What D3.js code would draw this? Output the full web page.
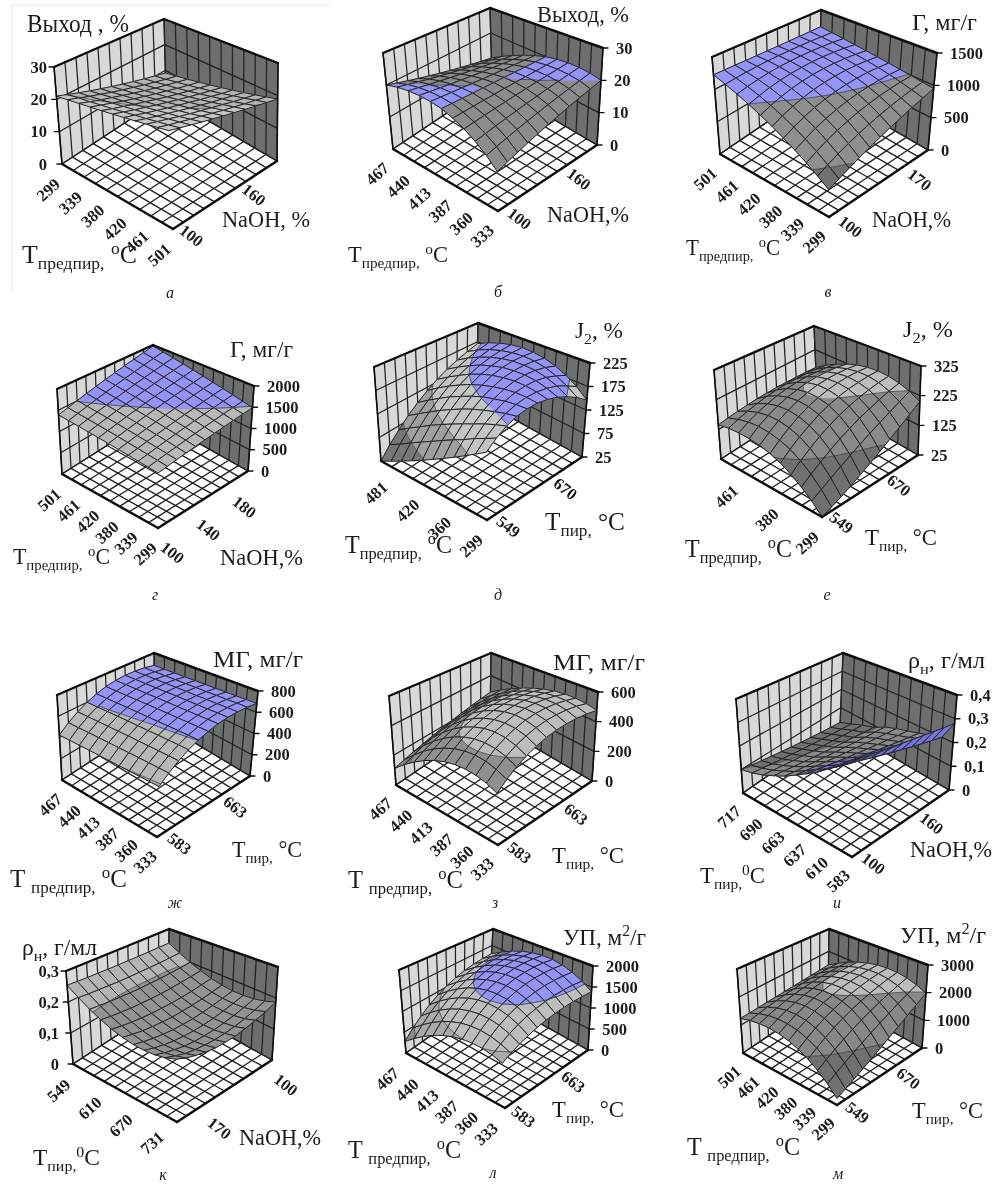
<!DOCTYPE html>
<html>
<head>
<meta charset="utf-8">
<script src="https://cdn.jsdelivr.net/npm/d3@7"></script>
<style>
  html, body { margin: 0; padding: 0; background: #fff; }
  text { font-family: "Liberation Serif", serif; fill: #1c1c1c; }
</style>
</head>
<body>
<svg id="chart" width="1002" height="1187">
  <defs><filter id="soft" x="0" y="0" width="100%" height="100%"><feGaussianBlur stdDeviation="0.35"/></filter></defs>
</svg>
<script>
// values: row = left axis step from the front corner, column = right axis step
const surfA = [
[25,24.4,23.8,23.2,22.6,22,21.4,20.8,20.2,19.6,19],
[24.6,23.9,23.3,22.6,22,21.3,20.6,20,19.3,18.7,18],
[24.2,23.5,22.8,22,21.3,20.6,19.9,19.2,18.4,17.7,17],
[23.8,23,22.2,21.5,20.7,19.9,19.1,18.3,17.6,16.8,16],
[23.4,22.6,21.7,20.9,20,19.2,18.4,17.5,16.7,15.8,15],
[23,22.1,21.2,20.3,19.4,18.5,17.6,16.7,15.8,14.9,14],
[22.6,21.6,20.7,19.7,18.8,17.8,16.8,15.9,14.9,14,13],
[22.2,21.2,20.2,19.1,18.1,17.1,16.1,15.1,14,13,12],
[21.8,20.7,19.6,18.6,17.5,16.4,15.3,14.2,13.2,12.1,11],
[21.4,20.3,19.1,18,16.8,15.7,14.6,13.4,12.3,11.1,10],
[21,19.8,18.6,17.4,16.2,15,13.8,12.6,11.4,10.2,9]];
const surfB = [
[10,11,12,13,14,15,16,17,18,19,20],
[12.8,13.6,14.4,15.2,16,16.8,17.6,18.4,19.2,20,20.8],
[15.1,15.7,16.3,16.9,17.5,18.1,18.7,19.3,19.9,20.5,21.1],
[17.1,17.5,17.9,18.3,18.7,19.1,19.5,19.9,20.3,20.7,21.1],
[18.7,18.9,19.1,19.3,19.5,19.7,19.9,20.1,20.3,20.5,20.7],
[20,20,20,20,20,20,20,20,20,20,20],
[20.7,20.5,20.3,20.1,19.9,19.7,19.5,19.3,19.1,18.9,18.7],
[21.1,20.7,20.3,19.9,19.5,19.1,18.7,18.3,17.9,17.5,17.1],
[21.1,20.5,19.9,19.3,18.7,18.1,17.5,16.9,16.3,15.7,15.1],
[20.8,20,19.2,18.4,17.6,16.8,16,15.2,14.4,13.6,12.8],
[20,19,18,17,16,15,14,13,12,11,10]];
const surfV = [
[350,410,470,530,590,650,710,770,830,890,950],
[452,521,586,647,705,759,809,855,898,937,972],
[551,625,693,754,809,856,897,932,959,981,995],
[647,723,791,850,900,941,974,998,1013,1019,1017],
[738,813,878,934,979,1014,1039,1054,1060,1055,1040],
[828,898,958,1007,1047,1075,1093,1101,1098,1086,1062],
[914,976,1028,1070,1102,1124,1136,1138,1130,1112,1084],
[997,1047,1089,1122,1146,1161,1168,1166,1155,1135,1107],
[1077,1112,1140,1163,1178,1186,1188,1183,1172,1154,1129],
[1152,1169,1182,1191,1197,1199,1197,1191,1182,1169,1152],
[1226,1221,1216,1210,1205,1200,1195,1190,1184,1179,1174]];
const surfG = [
[1120,1157,1194,1231,1268,1305,1342,1379,1416,1453,1490],
[1147,1186,1225,1264,1303,1343,1382,1421,1460,1499,1538],
[1174,1215,1256,1298,1339,1380,1421,1462,1504,1545,1586],
[1201,1244,1288,1331,1374,1418,1461,1504,1547,1591,1634],
[1228,1273,1319,1364,1410,1455,1500,1546,1591,1637,1682],
[1255,1303,1350,1398,1445,1493,1540,1588,1635,1683,1730],
[1282,1332,1381,1431,1480,1530,1580,1629,1679,1728,1778],
[1309,1361,1412,1464,1516,1568,1619,1671,1723,1774,1826],
[1336,1390,1444,1497,1551,1605,1659,1713,1766,1820,1874],
[1363,1419,1475,1531,1587,1643,1698,1754,1810,1866,1922],
[1390,1448,1506,1564,1622,1680,1738,1796,1854,1912,1970]];
const surfD = [
[145,161,174,183,188,190,188,183,174,162,146],
[133,152,168,180,188,193,194,192,187,177,165],
[121,143,161,175,186,194,198,199,196,189,180],
[109,132,152,169,182,192,199,202,202,198,191],
[97,122,143,162,177,188,197,202,204,203,199],
[85,111,133,153,169,182,193,200,204,205,203],
[73,99,122,142,159,174,186,194,200,203,204],
[61,87,110,130,148,163,176,186,193,198,201],
[49,74,96,116,134,150,163,174,183,190,194],
[37,60,82,101,119,135,148,160,170,178,184],
[25,47,66,85,102,117,131,143,153,162,170]];
const surfE = [
[25,36,48,62,78,95,114,134,156,180,205],
[54,70,86,103,120,137,154,171,188,206,224],
[78,99,118,137,155,171,187,200,214,226,237],
[99,123,144,164,182,197,211,222,232,240,245],
[117,142,164,183,201,215,227,236,242,247,248],
[130,155,177,196,212,225,235,242,246,247,245],
[140,163,184,201,216,227,236,240,242,241,237],
[145,167,185,200,212,221,228,231,231,229,223],
[147,165,179,191,201,208,212,214,213,210,204],
[146,157,167,175,182,186,189,189,188,185,180],
[140,145,149,152,155,156,157,156,155,153,150]];
const surfZh = [
[387,453,511,561,602,636,662,679,688,690,683],
[391,457,515,566,607,640,665,682,689,690,681],
[394,461,519,569,610,642,665,681,688,686,676],
[398,465,523,573,614,645,668,683,689,686,674],
[401,469,527,576,616,648,670,684,688,683,670],
[405,472,532,581,620,652,673,686,689,683,668],
[409,477,535,585,624,655,675,687,689,681,664],
[412,480,539,589,628,657,677,687,689,680,661],
[416,485,543,593,631,660,680,689,689,678,658],
[419,488,547,595,634,663,682,690,688,676,654],
[423,493,551,600,638,667,684,692,688,675,651]];
const surfZ = [
[282,329,370,405,433,456,472,482,486,484,476],
[310,359,403,438,467,489,504,511,512,506,493],
[327,379,423,459,487,509,522,528,526,517,501],
[335,387,431,467,494,516,528,532,529,519,500],
[333,383,427,462,488,509,520,524,520,510,491],
[321,369,410,443,469,489,500,504,500,491,473],
[299,343,382,413,437,456,467,471,469,462,447],
[267,307,341,369,391,409,421,427,427,423,412],
[225,259,288,312,332,349,361,369,373,373,369],
[174,199,223,242,260,276,289,300,308,314,317],
[112,129,145,160,175,190,204,218,231,244,256]];
const surfI = [
[.33,.325,.32,.315,.31,.305,.30,.295,.29,.285,.28],
[.30,.29,.28,.27,.26,.25,.24,.23,.22,.21,.20],
[.27,.26,.25,.245,.235,.23,.22,.21,.20,.195,.185],
[.24,.233,.226,.219,.212,.205,.198,.191,.184,.177,.17],
[.215,.209,.203,.197,.191,.185,.179,.173,.167,.161,.155],
[.19,.185,.18,.175,.17,.165,.16,.155,.15,.145,.14],
[.165,.16,.156,.152,.147,.143,.138,.134,.129,.125,.12],
[.145,.14,.134,.129,.123,.118,.112,.107,.101,.096,.09],
[.125,.12,.114,.109,.103,.098,.092,.087,.081,.076,.07],
[.11,.104,.097,.091,.084,.078,.071,.065,.058,.052,.045],
[.10,.092,.084,.076,.068,.06,.052,.044,.036,.028,.02]];
const surfK = [
[.167,.156,.149,.144,.141,.142,.145,.152,.161,.172,.187],
[.158,.149,.141,.137,.135,.135,.138,.143,.151,.162,.175],
[.153,.144,.138,.133,.131,.132,.134,.139,.146,.155,.167],
[.152,.144,.138,.134,.132,.132,.134,.138,.145,.153,.163],
[.155,.148,.143,.139,.137,.137,.138,.142,.147,.154,.162],
[.162,.156,.151,.148,.146,.145,.147,.149,.153,.159,.166],
[.172,.167,.163,.160,.158,.158,.158,.160,.163,.168,.173],
[.187,.182,.179,.176,.175,.174,.174,.175,.178,.181,.185],
[.205,.202,.199,.197,.195,.194,.194,.194,.195,.197,.200],
[.228,.225,.223,.221,.219,.218,.218,.217,.217,.218,.219],
[.254,.252,.25,.249,.247,.246,.245,.244,.243,.243,.242]];
const surfL = [
[885,985,1073,1150,1217,1273,1318,1352,1375,1387,1389],
[958,1083,1193,1288,1369,1435,1486,1523,1545,1552,1544],
[1001,1148,1277,1388,1481,1556,1614,1652,1673,1676,1662],
[1014,1179,1324,1449,1552,1636,1698,1739,1761,1762,1742],
[998,1178,1336,1471,1583,1673,1740,1785,1807,1807,1784],
[952,1143,1310,1453,1573,1669,1740,1788,1812,1812,1789],
[877,1075,1249,1398,1523,1623,1699,1750,1776,1778,1757],
[772,973,1151,1304,1432,1536,1615,1669,1700,1705,1687],
[638,839,1018,1171,1301,1408,1489,1547,1582,1591,1579],
[473,671,846,999,1129,1237,1321,1383,1422,1439,1433],
[280,470,640,789,917,1025,1111,1177,1222,1246,1250]];
const surfM = [
[200,319,452,597,756,927,1112,1309,1520,1744,1980],
[493,645,801,958,1119,1281,1447,1615,1786,1959,2134],
[744,920,1090,1255,1413,1566,1713,1853,1989,2118,2242],
[953,1142,1320,1486,1639,1779,1908,2024,2130,2222,2301],
[1119,1313,1490,1651,1795,1923,2034,2128,2208,2269,2314],
[1244,1432,1601,1752,1883,1996,2091,2166,2222,2260,2279],
[1327,1499,1652,1786,1902,1999,2077,2135,2175,2195,2197],
[1367,1514,1644,1757,1853,1931,1993,2037,2065,2074,2067],
[1366,1478,1576,1662,1734,1794,1840,1872,1892,1898,1891],
[1321,1389,1449,1501,1547,1585,1616,1640,1655,1665,1666],
[1236,1249,1262,1276,1291,1307,1323,1340,1357,1376,1395]];

// tick labels, listed from the front corner outwards
const tempPre6 = ['501','461','420','380','339','299'];
const tempPre6b = ['333','360','387','413','440','467'];
const tempPre6c = ['299','339','380','420','461','501'];
const tempPre4 = ['299','360','420','481'];
const tempPre3 = ['299','380','461'];
const tempPyr6 = ['583','610','637','663','690','717'];
const tempPyr4 = ['731','670','610','549'];
const naoh160 = ['100','160'];
const naoh170 = ['100','170'];
const naoh180 = ['100','140','180'];
const naoh100 = ['170','100'];
const pyr670 = ['549','670'];
const pyr663 = ['583','663'];

const zYield = [0,10,20,30];
const zG1500 = [0,500,1000,1500];
const zG2000 = [0,500,1000,1500,2000];
const zJ225 = [25,75,125,175,225];
const zJ325 = [25,125,225,325];
const zMg800 = [0,200,400,600,800];
const zMg600 = [0,200,400,600];
const zRho4 = [0,.1,.2,.3,.4];
const zRho3 = [0,.1,.2,.3];
const zS3000 = [0,1000,2000,3000];

const T_PRE = 'T~предпир,~ ^o^C';
const T_PRE2 = 'T ~предпир,~ ^o^C';
const T_PYR = 'T~пир,~ °C';
const T_PYR0 = 'T~пир,~^0^C';
const BLUE = '#9494f6';

// f front, l left, r right = floor corners; lt rt bt = wall tops
const panels = [
 {z:surfA, zt:zYield, bands:['#a8a8a8','#b4b4b4','#c6c6c6'], zSide:'l', f:[173,229],l:[62,164],r:[277,161],lt:[54,67],rt:[278,63],bt:[164,19],
  left:tempPre6,ls:2,lo:[-10,25], right:naoh160,rs:6,r0:0,ro:[15,6],
  titles:[['Выход , %',27,32,102,25],['NaOH, %',222,227,88,24],[T_PRE,22,263,115,26]], letter:['а',170,298]},
 {z:surfB, zt:zYield, bands:['#808080','#8c8c8c',BLUE], zSide:'r', f:[498,211],l:[393,149],r:[597,145],lt:[383,53],rt:[603,48],bt:[490,8],
  left:tempPre6b,ls:2,lo:[-12,24], right:naoh160,rs:6,r0:0,ro:[18,7],
  titles:[['Выход, %',537,22,92],['NaOH,%',547,222,82],[T_PRE,348,262,100]], letter:['б',498,297]},
 {z:surfV, zt:zG1500, bands:['#6f6f6f','#8f8f8f',BLUE], zSide:'r', f:[829,217],l:[720,154],r:[928,150],lt:[712,57],rt:[937,53],bt:[821,10],
  left:tempPre6c,ls:2,lo:[-11,24], right:naoh170,rs:7,r0:0,ro:[18,9],
  titles:[['Г, мг/г',912,30,65],['NaOH,%',872,227,79],[T_PRE,686,255,94]], letter:['в',828,297]},
 {z:surfG, zt:zG2000, bands:['#808080','#a0a0a0','#b8b8b8',BLUE], zSide:'r', f:[158,528],l:[62,474],r:[248,471],lt:[57,389],rt:[254,386],bt:[153,345],
  left:tempPre6c,ls:2,lo:[-9,25], right:naoh180,rs:4,r0:0,ro:[11,24],
  titles:[['Г, мг/г',230,357,63],['NaOH,%',220,565,83],[T_PRE,13,564,97]], letter:['г',155,600]},
 {z:surfD, zt:zJ225, bands:['#777','#a0a0a0','#c4c4c4',BLUE], zSide:'r', f:[487,520],l:[381,461],r:[582,457],lt:[374,367],rt:[590,363],bt:[478,323],
  left:tempPre4,ls:3,lo:[-12,25], right:pyr670,rs:6,r0:0,ro:[18,6],
  titles:[['J~2~, %',575,338,48],[T_PYR,545,530,80,25],[T_PRE,345,553,107,26]], letter:['д',498,600]},
 {z:surfE, zt:zJ325, bands:['#707070','#8a8a8a','#bdbdbd'], zSide:'r', f:[822,517],l:[721,459],r:[918,455],lt:[714,370],rt:[921,366],bt:[814,326],
  left:tempPre3,ls:4,lo:[-11,25], right:pyr670,rs:6,r0:0,ro:[16,5],
  titles:[['J~2~, %',903,337,50],[T_PYR,865,545,72],[T_PRE,685,557,107,26]], letter:['е',827,600]},
 {z:surfZh, zt:zMg800, bands:['#888','#a0a0a0','#b8b8b8',BLUE], zSide:'r', f:[157,837],l:[62,780],r:[250,776],lt:[57,695],rt:[258,691],bt:[154,653],
  left:tempPre6b,ls:2,lo:[-8,24], right:pyr663,rs:6,r0:0,ro:[19,6],
  titles:[['МГ, мг/г',213,667,90,24],[T_PYR,232,857,70],[T_PRE2,10,887,117,26]], letter:['ж',175,908]},
 {z:surfZ, zt:zMg600, bands:['#808080','#8f8f8f','#bdbdbd'], zSide:'r', f:[498,845],l:[396,785],r:[592,781],lt:[389,696],rt:[598,692],bt:[491,653],
  left:tempPre6b,ls:2,lo:[-12,23], right:pyr663,rs:6,r0:0,ro:[18,7],
  titles:[['МГ, мг/г',553,670,92,24],[T_PYR,552,863,72],[T_PRE2,348,888,115,26]], letter:['з',495,908]},
 {z:surfI, zt:zRho4, bands:['#707070','#8a8a8a','#7474dc','#7474dc'], zSide:'r', f:[852,857],l:[743,793],r:[949,790],lt:[736,699],rt:[957,695],bt:[843,653],
  left:tempPyr6,ls:2,lo:[-10,23], right:naoh160,rs:6,r0:0,ro:[18,6], comma:true,
  titles:[['ρ~н~, г/мл',908,668,77],['NaOH,%',910,857,82],[T_PYR0,700,883,65]], letter:['и',837,908]},
 {z:surfK, zt:zRho3, bands:['#777','#939393','#b4b4b4'], zSide:'l', f:[177,1122],l:[73,1064],r:[272,1060],lt:[66,971],rt:[278,967],bt:[169,929],
  left:tempPyr4,ls:3,lo:[-21,20], right:naoh100,rs:7,r0:2,ro:[20,18], comma:true,
  titles:[['ρ~н~, г/мл',22,955,75],['NaOH,%',239,1145,82],[T_PYR0,33,1165,67]], letter:['к',163,1180]},
 {z:surfL, zt:zG2000, bands:['#8a8a8a','#aaa','#bdbdbd',BLUE], zSide:'r', f:[505,1108],l:[406,1053],r:[588,1050],lt:[399,970],rt:[593,966],bt:[493,929],
  left:tempPre6b,ls:2,lo:[-15,25], right:pyr663,rs:6,r0:0,ro:[15,8],
  titles:[['УП, м^2^/г',563,945,83,24],[T_PYR,552,1117,72],[T_PRE2,348,1158,113,26]], letter:['л',493,1178]},
 {z:surfM, zt:zS3000, bands:['#6f6f6f','#888','#bcbcbc'], zSide:'r', f:[837,1105],l:[743,1053],r:[922,1048],lt:[737,969],rt:[928,965],bt:[829,929],
  left:tempPre6c,ls:2,lo:[-10,23], right:pyr670,rs:6,r0:0,ro:[17,7],
  titles:[['УП, м^2^/г',900,943,86,24],[T_PYR,912,1118,71],[T_PRE2,687,1155,113,26]], letter:['м',838,1179]}
];

const svg = d3.select('#chart');
const root = svg.append('g').attr('filter','url(#soft)');
root.append('rect').attr('width',1002).attr('height',1187).attr('fill','#fff');
// faint scan frame around panel a
root.append('path').attr('d','M330,5H12V293').attr('fill','none').attr('stroke','#e6e6e6');

const closed = d3.line().curve(d3.curveLinearClosed);
const LINE = '#222';
const N = 10;
const step = d3.scaleLinear().domain([0,N]).range([0,1]);

function lerp(a,b,t){ return [a[0]+(b[0]-a[0])*t, a[1]+(b[1]-a[1])*t]; }

function addRich(g,str,x,y,size,w){
    const text = g.append('text').attr('x',x).attr('y',y).attr('font-size',size)
        .attr('textLength',w).attr('lengthAdjust','spacingAndGlyphs');
    let shift = 0;
    str.split(/(~[^~]*~|\^[^^]*\^)/).filter(s=>s.length).forEach(s=>{
        let target = 0, fs = size, t = s;
        if(s[0]==='~'){ target = size*.24; fs = size*.68; t = s.slice(1,-1); }
        if(s[0]==='^'){ target = -size*.36; fs = size*.68; t = s.slice(1,-1); }
        text.append('tspan').attr('dy',target-shift).attr('font-size',fs).text(t);
        shift = target;
    });
}

// clip a cell polygon [u,v,z] to z >= limit or z <= limit
function clipZ(poly,limit,keepAbove){
    const out = [];
    poly.forEach((p,k)=>{
        const q = poly[(k+1)%poly.length];
        const pIn = keepAbove ? p[2]>=limit : p[2]<=limit;
        const qIn = keepAbove ? q[2]>=limit : q[2]<=limit;
        if(pIn) out.push(p);
        if(pIn!==qIn){
            const t = (limit-p[2])/(q[2]-p[2]);
            out.push([p[0]+(q[0]-p[0])*t, p[1]+(q[1]-p[1])*t, limit]);
        }
    });
    return out;
}

function drawPanel(p){
    const g = root.append('g');
    const b = [p.l[0]+p.r[0]-p.f[0], p.l[1]+p.r[1]-p.f[1]];
    const ft = [p.lt[0]+p.rt[0]-p.bt[0], p.lt[1]+p.rt[1]-p.bt[1]];
    const zScale = d3.scaleLinear().domain(d3.extent(p.zt)).range([0,1]).clamp(true);

    const project = (u,v,w)=>{
        const lo = lerp(lerp(p.f,p.l,u), lerp(p.r,b,u), v);
        const hi = lerp(lerp(ft,p.lt,u), lerp(p.rt,p.bt,u), v);
        return lerp(lo,hi,w);
    };
    const pt = c=>project(step(c[0]),step(c[1]),zScale(c[2]));
    const seg = (a,c,w=1,col=LINE)=>g.append('line')
        .attr('x1',a[0]).attr('y1',a[1]).attr('x2',c[0]).attr('y2',c[1])
        .attr('stroke',col).attr('stroke-width',w).attr('stroke-linecap','round');

    // walls and floor
    g.append('path').attr('d',closed([p.l,b,p.bt,p.lt])).attr('fill','#d8d8d8');
    g.append('path').attr('d',closed([b,p.r,p.rt,p.bt])).attr('fill','#6e6e6e');
    g.append('path').attr('d',closed([p.f,p.l,b,p.r])).attr('fill','#fff');

    d3.range(0,N+1).forEach(k=>{
        const t = step(k);
        seg(project(t,0,0),project(t,1,0),1.35);
        seg(project(0,t,0),project(1,t,0),1.35);
        seg(project(1,t,0),project(1,t,1),1.25);
        seg(project(t,1,0),project(t,1,1),1.25);
    });
    p.zt.forEach(z=>{
        const w = zScale(z);
        seg(project(1,0,w),project(1,1,w),1.25);
        seg(project(1,1,w),project(0,1,w),1.25);
    });

    // surface, back corner first
    const cells = [];
    d3.range(0,N).forEach(i=>d3.range(0,N).forEach(j=>cells.push([i,j])));
    cells.sort((a,c)=>(c[0]+c[1])-(a[0]+a[1]));
    const limits = p.zt;
    cells.forEach(([i,j])=>{
        const quad = [[i,j,p.z[i][j]],[i+1,j,p.z[i+1][j]],[i+1,j+1,p.z[i+1][j+1]],[i,j+1,p.z[i][j+1]]];
        p.bands.forEach((col,k)=>{
            const lo = k===0 ? -1e9 : limits[k];
            const hi = k===p.bands.length-1 ? 1e9 : limits[k+1];
            let poly = clipZ(quad,lo,true);
            if(poly.length) poly = clipZ(poly,hi,false);
            if(poly.length>2) g.append('path').attr('d',closed(poly.map(pt)))
                .attr('fill',col).attr('stroke',col).attr('stroke-width',.5);
        });
        // band border
        limits.slice(1,-1).forEach(t=>{
            const hits = [];
            quad.forEach((a,k)=>{
                const c = quad[(k+1)%4];
                if((a[2]-t)*(c[2]-t)<0){
                    const s = (t-a[2])/(c[2]-a[2]);
                    hits.push([a[0]+(c[0]-a[0])*s, a[1]+(c[1]-a[1])*s, t]);
                }
            });
            if(hits.length>=2) seg(pt(hits[0]),pt(hits[1]),.7,'#333');
        });
        g.append('path').attr('d',closed(quad.map(pt))).attr('fill','none')
            .attr('stroke',LINE).attr('stroke-width',1).attr('stroke-linejoin','round');
    });

    // frame
    seg(p.f,p.l,2.5,'#111'); seg(p.f,p.r,2.5,'#111');
    seg(p.lt,p.bt,2.4,'#111'); seg(p.bt,p.rt,2.4,'#111');
    seg(p.l,p.lt,1.6,'#111'); seg(p.r,p.rt,1.6,'#111');

    // z axis
    p.zt.forEach(z=>{
        const w = zScale(z);
        const fmt = p.comma ? String(z).replace('.',',') : String(z);
        if(p.zSide==='r'){
            const a = project(0,1,w);
            seg(a,[a[0]+5,a[1]],1.3,'#111');
            g.append('text').attr('x',a[0]+13).attr('y',a[1]+5.5).attr('font-size',16.5)
                .attr('font-weight','bold').text(fmt);
        } else {
            const a = project(1,0,w);
            seg(a,[a[0]-5,a[1]],1.3,'#111');
            g.append('text').attr('x',p.lt[0]-7).attr('y',a[1]+5.5).attr('font-size',16.5)
                .attr('text-anchor','end').attr('font-weight','bold').text(fmt);
        }
    });

    // floor axes
    p.left.forEach((lab,k)=>{
        const a = project(step(k*p.ls),0,0);
        g.append('text').attr('font-size',16.5).attr('font-weight','bold').attr('text-anchor','middle')
            .attr('transform',`translate(${a[0]+p.lo[0]},${a[1]+p.lo[1]+5}) rotate(-42)`).text(lab);
    });
    p.right.forEach((lab,k)=>{
        const a = project(0,step(p.r0+k*p.rs),0);
        g.append('text').attr('font-size',16.5).attr('font-weight','bold').attr('text-anchor','middle')
            .attr('transform',`translate(${a[0]+p.ro[0]},${a[1]+p.ro[1]+5}) rotate(38)`).text(lab);
    });

    p.titles.forEach(t=>addRich(g,t[0],t[1],t[2],t[4]||23,t[3]));
    g.append('text').attr('x',p.letter[1]).attr('y',p.letter[2]).attr('font-size',16)
        .attr('font-style','italic').attr('text-anchor','middle').text(p.letter[0]);
}

panels.forEach(drawPanel);
</script>
</body>
</html>
